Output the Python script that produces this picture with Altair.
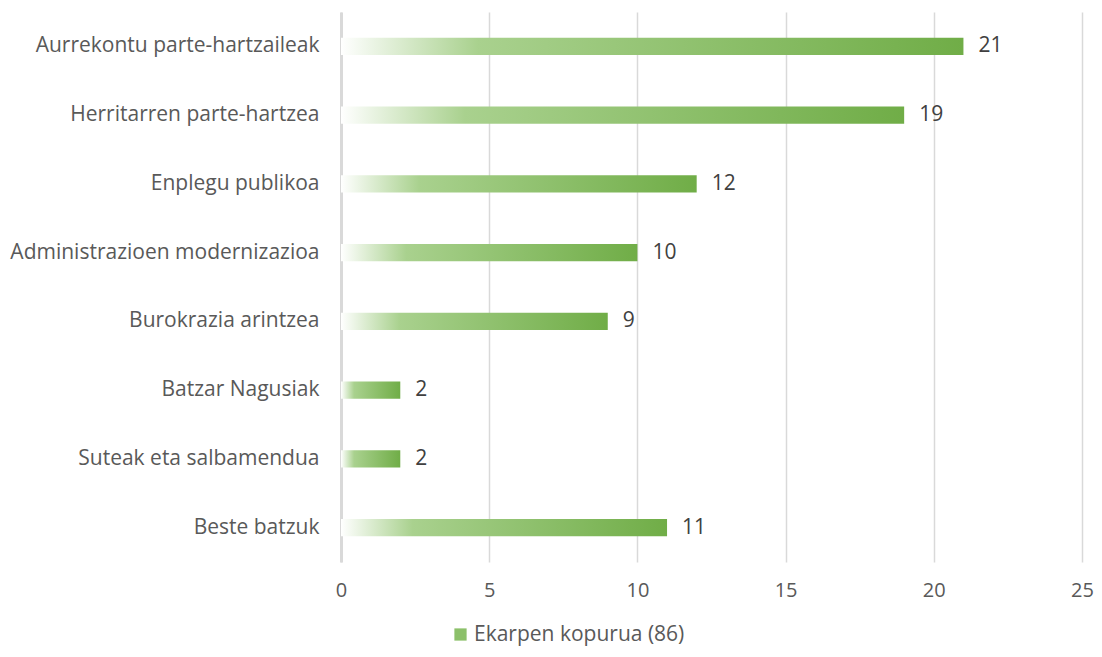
import altair as alt
import pandas as pd

categories = [
    "Aurrekontu parte-hartzaileak",
    "Herritarren parte-hartzea",
    "Enplegu publikoa",
    "Administrazioen modernizazioa",
    "Burokrazia arintzea",
    "Batzar Nagusiak",
    "Suteak eta salbamendua",
    "Beste batzuk",
]
values = [21, 19, 12, 10, 9, 2, 2, 11]
series_name = "Ekarpen kopurua (86)"
x_ticks = [0, 5, 10, 15, 20, 25]

df = pd.DataFrame({"cat": categories, "val": values, "series": series_name})

FONT = "Open Sans"
FS = 21

y_enc = alt.Y(
    "cat:N",
    sort=categories,
    title=None,
    scale=alt.Scale(paddingInner=0.75, paddingOuter=0.375),
    axis=alt.Axis(
        labelFontSize=FS,
        labelColor="#595959",
        labelFont=FONT,
        labelPadding=22,
        labelLimit=0,
        ticks=False,
        domainColor="#d9d9d9",
        domainWidth=3,
        grid=False,
    ),
)
x_enc = alt.X(
    "val:Q",
    title=None,
    scale=alt.Scale(domain=[0, 25], nice=False),
    axis=alt.Axis(
        values=x_ticks,
        labelFontSize=20,
        labelColor="#595959",
        labelFont=FONT,
        labelPadding=18,
        labelFlush=False,
        ticks=False,
        domain=False,
        gridColor="#d9d9d9",
        gridWidth=1.5,
    ),
)

grad = alt.Gradient(
    gradient="linear",
    x1=0, x2=1, y1=0, y2=0,
    stops=[
        alt.GradientStop(offset=0, color="#ffffff"),
        alt.GradientStop(offset=0.22, color="#a9d18e"),
        alt.GradientStop(offset=1, color="#70ad47"),
    ],
)

base = alt.Chart(df)
bars = base.mark_bar(color=grad).encode(x=x_enc, y=y_enc)
labels = base.mark_text(
    align="left", baseline="middle", dx=15, fontSize=FS, font=FONT, color="#404040"
).encode(x="val:Q", y=alt.Y("cat:N", sort=categories), text="val:Q")
legend_layer = base.mark_square(opacity=0, size=0).encode(
    x="val:Q",
    y=alt.Y("cat:N", sort=categories),
    color=alt.Color(
        "series:N",
        scale=alt.Scale(range=["#8cc06a"]),
        legend=alt.Legend(
            title=None,
            orient="none",
            legendX=109,
            legendY=612,
            symbolType="square",
            symbolSize=150,
            symbolOpacity=1,
            symbolStrokeWidth=0,
            labelFontSize=FS,
            labelFont=FONT,
            labelColor="#595959",
            labelLimit=0,
            labelOffset=3,
            padding=0,
        ),
    ),
)

chart = (
    alt.layer(bars, labels, legend_layer)
    .properties(
        width=741,
        height=550,
        autosize=alt.AutoSizeParams(type="none"),
        padding={"left": 333, "top": 4, "right": 12, "bottom": 87},
    )
    .configure_view(stroke=None)
)

chart.save("out.html", embed_options={"renderer": "svg", "actions": False})
